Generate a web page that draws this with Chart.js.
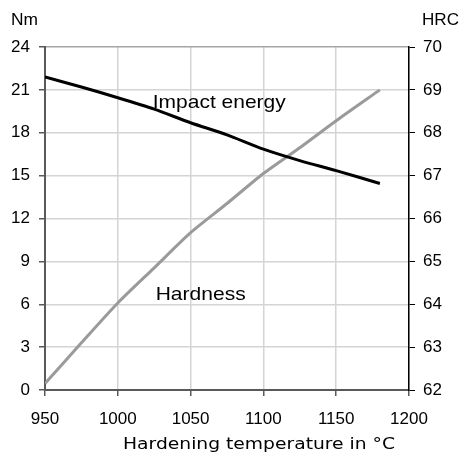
<!DOCTYPE html>
<html>
<head>
<meta charset="utf-8">
<script src="https://cdn.jsdelivr.net/npm/chart.js@4/dist/chart.umd.min.js"></script>
<style>
  html, body { margin: 0; padding: 0; background: #fff; }
  #wrap { width: 461px; height: 452px; }
</style>
</head>
<body>
<div id="wrap"><canvas id="chart" width="461" height="452"></canvas></div>
<script>
// hardening temperature (°C)
const temps = [950, 975, 1000, 1025, 1050, 1075, 1100, 1125, 1150, 1180];
// impact energy (Nm), left axis
const impactEnergy = [21.9, 21.2, 20.45, 19.65, 18.7, 17.85, 16.85, 16.05, 15.35, 14.45];
// hardness (HRC), right axis
const hardness = [62.15, 63.1, 64.03, 64.85, 65.67, 66.35, 67.05, 67.65, 68.28, 69.0];

const tempTicks = [950, 1000, 1050, 1100, 1150, 1200];
const nmTicks = [0, 3, 6, 9, 12, 15, 18, 21, 24];
const hrcTicks = [62, 63, 64, 65, 66, 67, 68, 69, 70];

const tickFont = { family: "'Liberation Sans', Arial, sans-serif", size: 17 };

// draws text squeezed/stretched to the width it has in the reference
function drawFit(ctx, text, x, y, width, font) {
  ctx.save();
  ctx.font = font;
  const w = ctx.measureText(text).width;
  ctx.translate(x, y);
  ctx.scale(width / w, 1);
  ctx.fillText(text, 0, 0);
  ctx.restore();
}

const labelsPlugin = {
  id: "labels",
  afterDraw(chart) {
    const { ctx, scales } = chart;
    const x = scales.x, y = scales.y, y1 = scales.y1;
    const arial = "'Liberation Sans', Arial, sans-serif";
    ctx.save();
    ctx.fillStyle = "#000";
    ctx.textAlign = "left";
    ctx.textBaseline = "alphabetic";
    drawFit(ctx, "Nm", 11, 25, 27, "17px " + arial);
    drawFit(ctx, "HRC", 422, 25, 37, "17px " + arial);
    drawFit(ctx, "Impact energy", x.getPixelForValue(1024), y.getPixelForValue(19.75), 133, "19px " + arial);
    drawFit(ctx, "Hardness", x.getPixelForValue(1026), y1.getPixelForValue(64.1), 90, "19px " + arial);
    drawFit(ctx, "Hardening temperature in °C", 123, 449, 272, "15px 'DejaVu Sans', sans-serif");
    ctx.restore();
  },
};

new Chart(document.getElementById("chart"), {
  type: "line",
  data: {
    datasets: [
      {
        label: "Impact energy",
        data: temps.map((t, i) => ({ x: t, y: impactEnergy[i] })),
        borderColor: "#000000",
        borderWidth: 3,
        pointRadius: 0,
        tension: 0.25,
        yAxisID: "y",
      },
      {
        label: "Hardness",
        data: temps.map((t, i) => ({ x: t, y: hardness[i] })),
        borderColor: "#9a9a9a",
        borderWidth: 3,
        pointRadius: 0,
        tension: 0.25,
        yAxisID: "y1",
      },
    ],
  },
  options: {
    responsive: false,
    animation: false,
    layout: { padding: { top: 47, left: 0, right: 0, bottom: 0 } },
    plugins: { legend: { display: false }, tooltip: { enabled: false } },
    scales: {
      x: {
        type: "linear",
        min: 950,
        max: 1200,
        afterFit: (s) => { s.height = 62; },
        afterBuildTicks: (s) => { s.ticks = tempTicks.map((v) => ({ value: v })); },
        border: { color: "#595959", width: 2 },
        grid: { color: "#d4d4d4", lineWidth: 1.5, tickColor: "#595959", tickLength: 6 },
        ticks: { color: "#000", font: tickFont, padding: 13, maxRotation: 0, callback: (v) => String(v) },
      },
      y: {
        position: "left",
        min: 0,
        max: 24,
        afterFit: (s) => { s.width = 45; },
        afterBuildTicks: (s) => { s.ticks = nmTicks.map((v) => ({ value: v })); },
        border: { color: "#595959", width: 2 },
        grid: {
          color: (c) => (c.tick && c.tick.value === 24 ? "#a6a6a6" : "#d4d4d4"),
          lineWidth: 1.5,
          tickColor: "#595959",
          tickLength: 6,
        },
        ticks: { color: "#000", font: tickFont, padding: 9 },
      },
      y1: {
        position: "right",
        min: 62,
        max: 70,
        afterFit: (s) => { s.width = 52; },
        afterBuildTicks: (s) => { s.ticks = hrcTicks.map((v) => ({ value: v })); },
        border: { color: "#000", width: 1.5 },
        grid: { drawOnChartArea: false, tickColor: "#000", tickLength: 6 },
        ticks: { color: "#000", font: tickFont, padding: 8 },
      },
    },
  },
  plugins: [labelsPlugin],
});
</script>
</body>
</html>
